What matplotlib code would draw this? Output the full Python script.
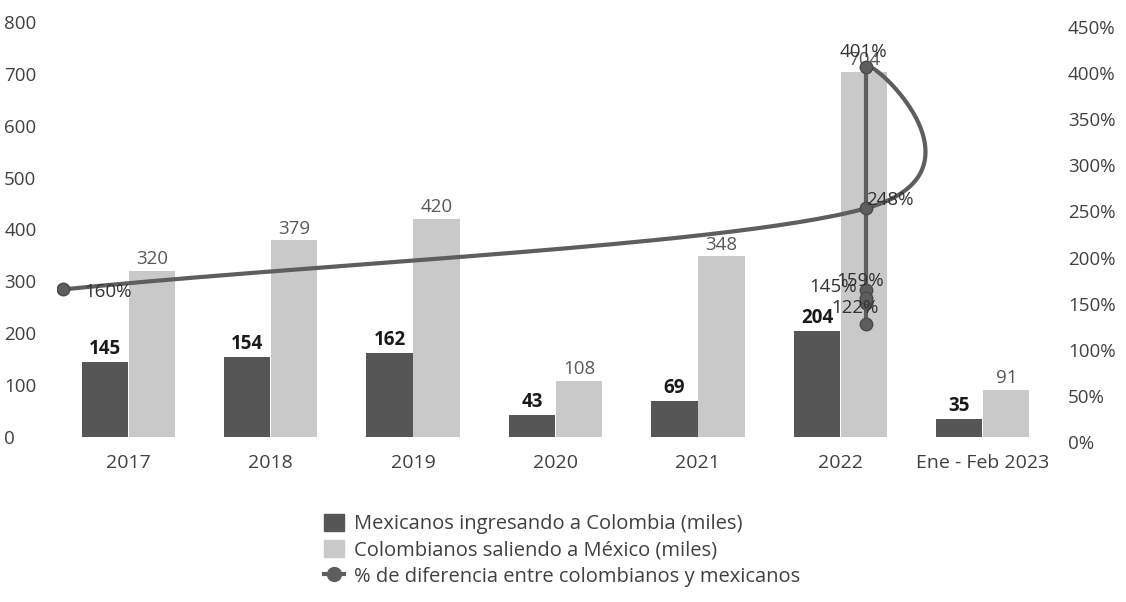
import numpy as np
import matplotlib
matplotlib.use("Agg")
import matplotlib.pyplot as plt
import matplotlib.transforms as mtransforms
from matplotlib.lines import Line2D
from matplotlib.patches import Patch
from matplotlib.ticker import FuncFormatter

plt.rcParams['font.family'] = ['Open Sans', 'DejaVu Sans']

# --- data ---
categories = ["2017", "2018", "2019", "2020", "2021", "2022", "Ene - Feb 2023"]
mexicanos = [145, 154, 162, 43, 69, 204, 35]          # miles
colombianos = [320, 379, 420, 108, 348, 704, 91]      # miles

# the % series in the source is a badly placed smoothed scatter:
# six points sit on the 2022 light bar, the last one on the left edge
pct_values = [122, 145, 159, 151, 401, 248, 160]
pct_x = [5.18, 5.18, 5.18, 5.18, 5.18, 5.18, -0.46]
pct_labels = ["122%", "145%", "159%", None, "401%", "248%", "160%"]

TEXT = '#404040'
DARK = '#565656'
LIGHT = '#c9c9c9'
LINE = '#5e5e5e'

W, H = 1126, 602
fig = plt.figure(figsize=(W / 100, H / 100), dpi=100)
left, right, top, bottom = 57, 1054, 22, 437
ax = fig.add_axes([left / W, 1 - bottom / H, (right - left) / W, (bottom - top) / H])
ax2 = ax.twinx()

x = np.arange(len(categories))
bw = 0.325
b1 = ax.bar(x - 0.165, mexicanos, bw, color=DARK, zorder=2)
b2 = ax.bar(x + 0.165, colombianos, bw, color=LIGHT, zorder=2)

for rect, v in zip(b1, mexicanos):
    ax.annotate(str(v), (rect.get_x() + rect.get_width() / 2, v), xytext=(0, 2),
                textcoords='offset points', ha='center', va='bottom',
                fontsize=13.5, fontweight='bold', color='#1a1a1a')
for rect, v in zip(b2, colombianos):
    ax.annotate(str(v), (rect.get_x() + rect.get_width() / 2, v), xytext=(0, 2),
                textcoords='offset points', ha='center', va='bottom',
                fontsize=13.5, color='#595959')

ax.set_xlim(-0.5, len(categories) - 0.5)
ax.set_ylim(0, 800)
ax.set_yticks(range(0, 801, 100))
ax.set_xticks(x)
ax.set_xticklabels(categories)
ax2.set_ylim(0, 450)
ax2.set_yticks(range(0, 451, 50))
ax2.yaxis.set_major_formatter(FuncFormatter(lambda v, p: f"{int(v)}%"))

for a in (ax, ax2):
    for s in a.spines.values():
        s.set_visible(False)
    a.tick_params(length=0, labelsize=13.5, labelcolor=TEXT)
ax.tick_params(axis='x', pad=12, labelsize=14)
ax.tick_params(axis='y', pad=38)
for t in ax.get_yticklabels():
    t.set_horizontalalignment('left')
ax2.tick_params(axis='y', pad=10)
# the scanned right-hand labels sit a little lower than the left ones
shift = mtransforms.ScaledTranslation(0, -5 / 100, fig.dpi_scale_trans)
for t in ax2.get_yticklabels():
    t.set_transform(t.get_transform() + shift)
ax.axhline(0, color='#b0b0b0', lw=0.8, ls=(0, (2, 2)), zorder=1)


# smoothed line (Catmull-Rom, done in screen space like the spreadsheet does)
def smooth(px, py, n=60):
    pts = ax2.transData.transform(np.column_stack([px, py]))
    out = [pts[0]]
    m = len(pts)
    for i in range(m - 1):
        p0, p1 = pts[i], pts[i + 1]
        t0 = (pts[i + 1] - pts[i - 1]) / 2 if i > 0 else (p1 - p0)
        t1 = (pts[i + 2] - pts[i]) / 2 if i + 2 < m else (p1 - p0)
        c0, c1 = p0 + t0 / 3, p1 - t1 / 3
        t = np.linspace(0, 1, n)[1:, None]
        seg = ((1 - t) ** 3) * p0 + 3 * ((1 - t) ** 2) * t * c0 + 3 * (1 - t) * t ** 2 * c1 + t ** 3 * p1
        out.extend(seg)
    return ax2.transData.inverted().transform(np.array(out))


curve = smooth(pct_x, pct_values)
ax2.plot(curve[:, 0], curve[:, 1], color=LINE, lw=3, zorder=3, solid_capstyle='round')
ax2.plot(pct_x, pct_values, 'o', color=LINE, markersize=9, markeredgecolor='#4a4a4a', zorder=4)

label_offsets = [(-8, 12), (-24, 12), (-4, 7), None, (-2, 11), (17, 6), (33, -2)]
for xv, yv, lab, off in zip(pct_x, pct_values, pct_labels, label_offsets):
    if lab is None:
        continue
    ax2.annotate(lab, (xv, yv), xytext=off, textcoords='offset points',
                 ha='center', va='center', fontsize=13.5, color='#333333', zorder=5)

handles = [
    Patch(facecolor=DARK, edgecolor=DARK),
    Patch(facecolor=LIGHT, edgecolor=LIGHT),
    Line2D([0], [0], color=LINE, lw=3, marker='o', markersize=10),
]
labels = [
    "Mexicanos ingresando a Colombia (miles)",
    "Colombianos saliendo a México (miles)",
    "% de diferencia entre colombianos y mexicanos",
]
fig.legend(handles, labels, loc='upper left', bbox_to_anchor=(314 / W, 1 - 504 / H),
           frameon=False, fontsize=14.5, labelcolor=TEXT, handlelength=1.0,
           handleheight=0.9, handletextpad=0.5, labelspacing=0.3, borderpad=0)

fig.savefig("out.png", dpi=100, facecolor='white')
